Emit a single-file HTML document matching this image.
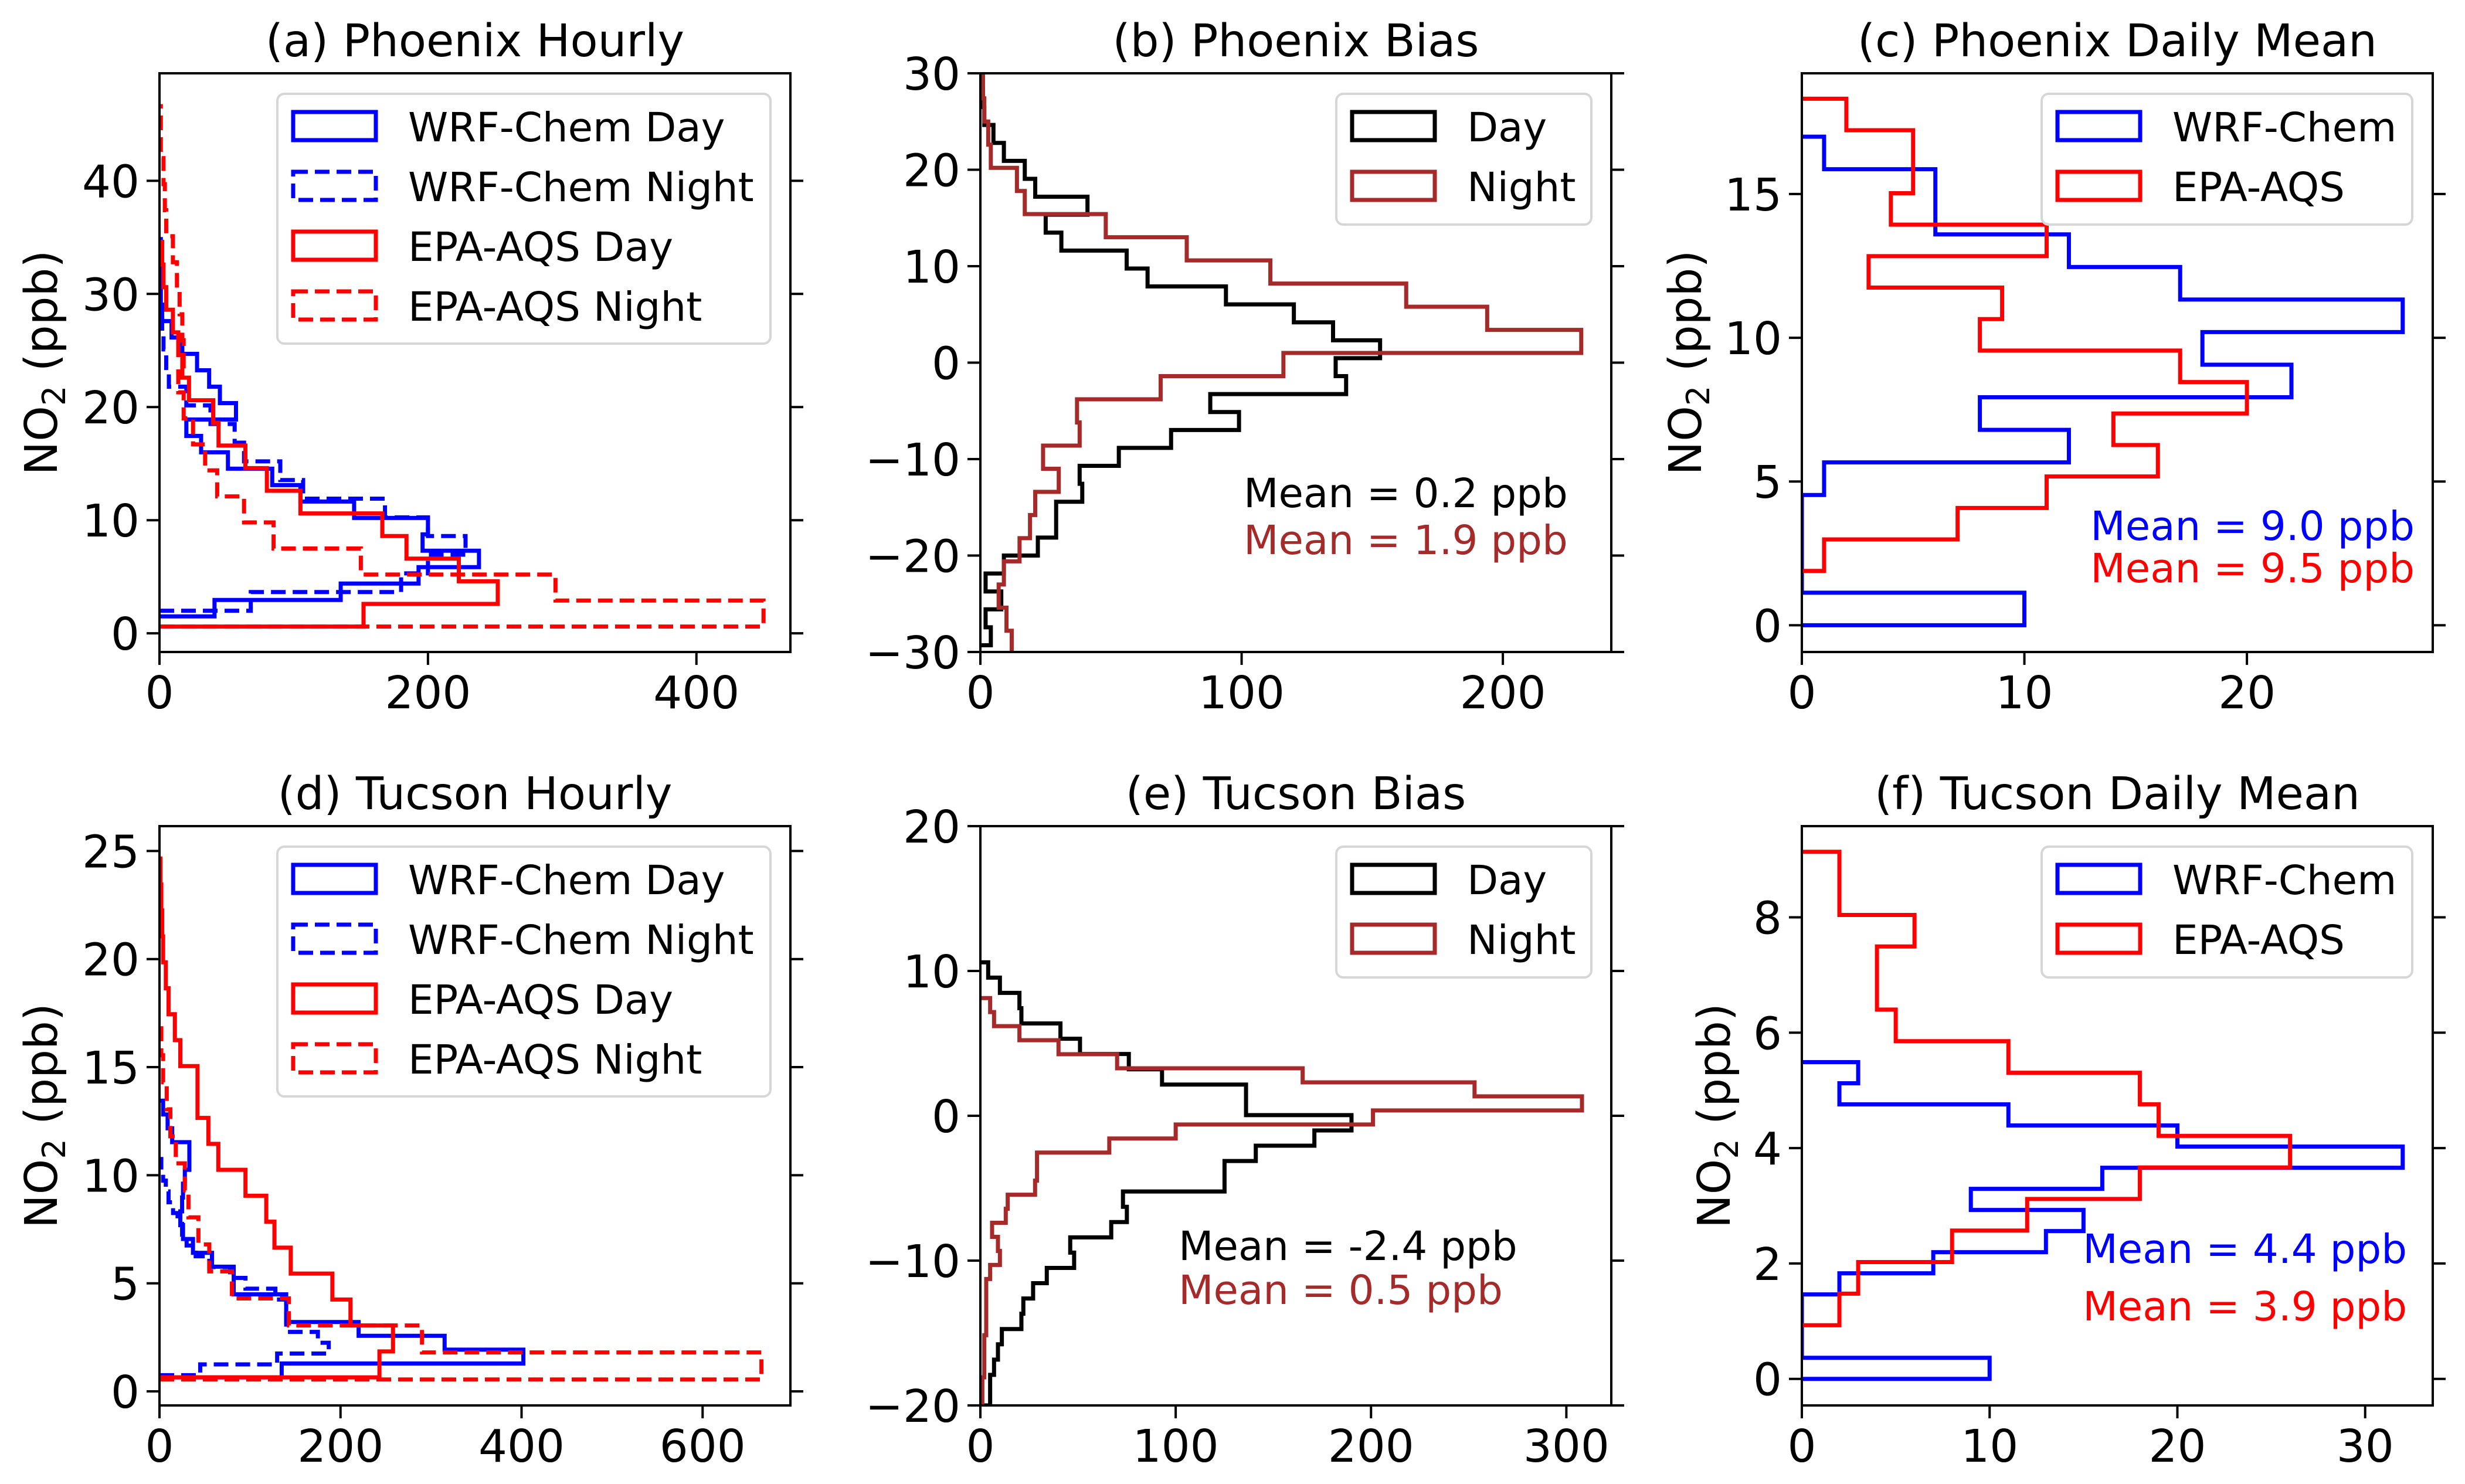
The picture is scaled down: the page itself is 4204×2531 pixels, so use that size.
<!DOCTYPE html>
<html><head><meta charset="utf-8"><style>
html,body{margin:0;padding:0;background:#fff}
svg{display:block}
text{font-family:"DejaVu Sans","Liberation Sans",sans-serif;fill:#000}
</style></head>
<body>
<svg id="fig" xmlns="http://www.w3.org/2000/svg" width="4204" height="2531" viewBox="0 0 4204 2531"></svg>
<script>
// ---- data (bin start, bin width, counts; bins run upward along y) ----
const aWrfDayStart = 1.5, aWrfDayWidth = 1.45;
const aWrfDayCounts = [41,135,193,238,196,200,145,105,84,51,31,20,57,45,37,28,17,9,2,1,1,1,1];
const aWrfNightStart = 2.0, aWrfNightWidth = 1.65;
const aWrfNightCounts = [68,180,200,228,200,168,107,90,63,56,38,20,7,5,3,2];
const aEpaDayStart = 0.6, aEpaDayWidth = 2.0;
const aEpaDayCounts = [152,252,223,184,166,105,80,64,44,40,22,17,14,10,5,3,2];
const aEpaNightStart = 0.6, aEpaNightWidth = 2.3;
const aEpaNightCounts = [450,295,150,85,63,43,34,25,18,14,18,17,15,13,10,5,4,3,1,1];

const bDayStart = -29.3, bDayWidth = 1.86;
const bDayCounts = [4,2,8,2,9,22,29,29,39,38,53,73,99,88,140,136,153,135,120,94,64,56,31,25,41,21,17,9,5,1.5,1];
const bNightStart = -32.6, bNightWidth = 2.4;
const bNightCounts = [12,12,10,7,9,15,19,21,30,24,38,37,69,116,230,194,163,111,79,48,17,14,4,3,1.5,1];

const cWrfStart = 0, cWrfWidth = 1.133;
const cWrfCounts = [10,0,0,0,1,12,8,22,18,27,17,12,6,6,1];
const cEpaStart = 1.89, cEpaWidth = 1.095;
const cEpaCounts = [1,7,11,16,14,20,17,8,9,3,11,4,5,5,2];

const dWrfDayStart = 0.65, dWrfDayWidth = 0.64;
const dWrfDayCounts = [135,402,315,220,140,140,82,82,58,37,26,23,25,26,28,33,33,14,9,4];
const dWrfNightStart = 0.75, dWrfNightWidth = 0.5;
const dWrfNightCounts = [45,130,187,175,140,140,140,128,95,78,55,40,30,25,20,15,10,7,4,2];
const dEpaDayStart = 0.65, dEpaDayWidth = 1.2;
const dEpaDayCounts = [243,258,211,191,145,127,118,95,65,54,42,42,23,17,10,7,4,3,2,1];
const dEpaNightStart = 0.55, dEpaNightWidth = 1.25;
const dEpaNightCounts = [665,290,143,80,55,43,32,28,18,12,8,4,2];

const eDayStart = -20, eDayWidth = 1.055;
const eDayCounts = [5,5,7,9,11,21,22,27,34,48,46,67,75,73,125,125,141,171,190,136,136,93,76,51,41,21,20,10,4];
const eNightStart = -20, eNightWidth = 0.97;
const eNightCounts = [1,1,2,2,2,3,3,3,3,5,10,9,6,13,14,28,29,29,66,100,201,308,253,165,70,40,20,7,5];

const fWrfStart = 0, fWrfWidth = 0.366;
const fWrfCounts = [10,0,0,0,2,7,13,15,9,16,32,20,11,2,3];
const fEpaStart = 0.93, fEpaWidth = 0.547;
const fEpaCounts = [2,3,8,12,18,26,19,18,11,5,4,4,6,2,2];

const aXTicks = [0,200,400], aYTicks = [0,10,20,30,40];
const bXTicks = [0,100,200], bYTicks = [-30,-20,-10,0,10,20,30];
const cXTicks = [0,10,20], cYTicks = [0,5,10,15];
const dXTicks = [0,200,400,600], dYTicks = [0,5,10,15,20,25];
const eXTicks = [0,100,200,300], eYTicks = [-20,-10,0,10,20];
const fXTicks = [0,10,20,30], fYTicks = [0,2,4,6,8];

const NS = "http://www.w3.org/2000/svg";
const svg = document.getElementById('fig');
function mk(tag, attrs, parent){
  const el = document.createElementNS(NS, tag);
  for (const k in attrs) el.setAttribute(k, attrs[k]);
  (parent||svg).appendChild(el);
  return el;
}
const BLUE="#0000ff", RED="#ff0000", BLACK="#000000", BROWN="#a52a2a";
const FS=77, LFS=69, MFS=69;
function fmt(v){ return v<0 ? "\u2212"+Math.abs(v) : String(v); }

function panel(o){
  const g = mk('g', {});
  
  
  const X = v => o.x0 + (v - o.xlim[0])/(o.xlim[1]-o.xlim[0])*(o.x1-o.x0);
  const Y = v => o.y1 - (v - o.ylim[0])/(o.ylim[1]-o.ylim[0])*(o.y1-o.y0);
  const cid = 'clip-'+o.name;
  const cp = mk('clipPath', {id:cid}, g);
  mk('rect', {x:o.x0, y:o.y0, width:o.x1-o.x0, height:o.y1-o.y0}, cp);
  const plot = mk('g', {'clip-path':'url(#'+cid+')'}, g);
  o.series.forEach(s => {
    let d = "M"+X(0)+","+Y(s.start);
    s.counts.forEach((c,i) => {
      const ya = Y(s.start + i*s.width), yb = Y(s.start + (i+1)*s.width);
      d += " L"+X(c)+","+ya+" L"+X(c)+","+yb;
    });
    d += " L"+X(0)+","+Y(s.start + s.counts.length*s.width);
    const p = mk('path', {d:d, fill:'none', stroke:s.color, 'stroke-width':7, 'stroke-linejoin':'miter', 'stroke-dasharray': s.dash ? '25,12' : 'none'}, plot);
    
    
  });
  const fr = mk('rect', {x:o.x0, y:o.y0, width:o.x1-o.x0, height:o.y1-o.y0, fill:'none', stroke:'#000', 'stroke-width':4}, g);
  
  
  o.xt.forEach(t => {
    const x = X(t);
    mk('line', {x1:x, x2:x, y1:o.y1, y2:o.y1+22, stroke:'#000', 'stroke-width':4}, g);
    const tx = mk('text', {x:x, y:o.y1+96, 'text-anchor':'middle', 'font-size':FS}, g);
    tx.textContent = fmt(t);
    
    
  });
  o.yt.forEach(t => {
    const y = Y(t);
    mk('line', {x1:o.x0-22, x2:o.x0, y1:y, y2:y, stroke:'#000', 'stroke-width':4}, g);
    mk('line', {x1:o.x1, x2:o.x1+22, y1:y, y2:y, stroke:'#000', 'stroke-width':4}, g);
    const tx = mk('text', {x:o.x0-34, y:y+28, 'text-anchor':'end', 'font-size':FS}, g);
    tx.textContent = fmt(t);
    
    
  });
  const ti = mk('text', {x:(o.x0+o.x1)/2, y:o.y0-29, 'text-anchor':'middle', 'font-size':FS}, g);
  ti.textContent = o.title;
  
  
  if (o.ylab){
    const yl = mk('text', {x:0, y:0, 'text-anchor':'middle', 'font-size':FS, transform:'translate('+(o.ylab+27)+','+((o.y0+o.y1)/2)+') rotate(-90)'}, g);
    yl.innerHTML = 'NO<tspan font-size="54" dy="14">2</tspan><tspan dy="-14"> (ppb)</tspan>';
    
    
  }
  const L = o.legend;
  const lg = mk('g', {}, g);
  
  
  mk('rect', {x:o.x0+L.dx, y:o.y0+35, width:L.w, height:L.h, rx:12, fill:'#fff', 'fill-opacity':0.8, stroke:'#d6d6d6', 'stroke-width':4}, lg);
  L.items.forEach((it,i) => {
    const cy = o.y0 + 90 + i*102;
    const hx = o.x0 + L.dx + 27;
    const r = mk('rect', {x:hx, y:cy-24, width:141, height:48, fill:'none', stroke:it.color, 'stroke-width':7, 'stroke-dasharray': it.dash ? '25,12' : 'none'}, lg);
    
    
    const t = mk('text', {x:hx+196, y:cy+26, 'font-size':LFS}, lg);
    t.textContent = it.label;
    
    
  });
  (o.means||[]).forEach(m => {
    const t = mk('text', {x:m.x, y:m.y, 'text-anchor':m.anchor, 'font-size':MFS, style:'fill:'+m.color}, g);
    t.textContent = m.text;
    
    
  });
}

const hourlyLegend = {dx:201, w:841, h:426, items:[
  {label:'WRF-Chem Day', color:BLUE}, {label:'WRF-Chem Night', color:BLUE, dash:true},
  {label:'EPA-AQS Day', color:RED}, {label:'EPA-AQS Night', color:RED, dash:true}]};
const biasLegend = {dx:607, w:435, h:223, items:[{label:'Day', color:BLACK},{label:'Night', color:BROWN}]};
const dailyLegend = {dx:409, w:632, h:223, items:[{label:'WRF-Chem', color:BLUE},{label:'EPA-AQS', color:RED}]};

const R1 = [125,1112], R2 = [1409,2397];
panel({name:'panel-a-phoenix-hourly', title:'(a) Phoenix Hourly', x0:272, x1:1348, y0:R1[0], y1:R1[1],
  xlim:[0,470], ylim:[-1.65,49.5], xt:aXTicks, yt:aYTicks, ylab:70, legend:hourlyLegend,
  series:[
    {sname:'wrf-chem-day-hist', start:aWrfDayStart, width:aWrfDayWidth, counts:aWrfDayCounts, color:BLUE},
    {sname:'wrf-chem-night-hist', start:aWrfNightStart, width:aWrfNightWidth, counts:aWrfNightCounts, color:BLUE, dash:true},
    {sname:'epa-aqs-day-hist', start:aEpaDayStart, width:aEpaDayWidth, counts:aEpaDayCounts, color:RED},
    {sname:'epa-aqs-night-hist', start:aEpaNightStart, width:aEpaNightWidth, counts:aEpaNightCounts, color:RED, dash:true}]});
panel({name:'panel-b-phoenix-bias', title:'(b) Phoenix Bias', x0:1672, x1:2748, y0:R1[0], y1:R1[1],
  xlim:[0,241.5], ylim:[-30,30], xt:bXTicks, yt:bYTicks, legend:biasLegend,
  means:[{text:'Mean = 0.2 ppb', x:2121, y:865, anchor:'start', color:BLACK},{text:'Mean = 1.9 ppb', x:2121, y:945, anchor:'start', color:BROWN}],
  series:[
    {sname:'day-bias-hist', start:bDayStart, width:bDayWidth, counts:bDayCounts, color:BLACK},
    {sname:'night-bias-hist', start:bNightStart, width:bNightWidth, counts:bNightCounts, color:BROWN}]});
panel({name:'panel-c-phoenix-daily-mean', title:'(c) Phoenix Daily Mean', x0:3073, x1:4149, y0:R1[0], y1:R1[1],
  xlim:[0,28.35], ylim:[-0.93,19.2], xt:cXTicks, yt:cYTicks, ylab:2874, legend:dailyLegend,
  means:[{text:'Mean = 9.0 ppb', x:4118, y:921, anchor:'end', color:BLUE},{text:'Mean = 9.5 ppb', x:4118, y:993, anchor:'end', color:RED}],
  series:[
    {sname:'wrf-chem-hist', start:cWrfStart, width:cWrfWidth, counts:cWrfCounts, color:BLUE},
    {sname:'epa-aqs-hist', start:cEpaStart, width:cEpaWidth, counts:cEpaCounts, color:RED}]});
panel({name:'panel-d-tucson-hourly', title:'(d) Tucson Hourly', x0:272, x1:1348, y0:R2[0], y1:R2[1],
  xlim:[0,697], ylim:[-0.65,26.15], xt:dXTicks, yt:dYTicks, ylab:70, legend:hourlyLegend,
  series:[
    {sname:'wrf-chem-day-hist', start:dWrfDayStart, width:dWrfDayWidth, counts:dWrfDayCounts, color:BLUE},
    {sname:'wrf-chem-night-hist', start:dWrfNightStart, width:dWrfNightWidth, counts:dWrfNightCounts, color:BLUE, dash:true},
    {sname:'epa-aqs-day-hist', start:dEpaDayStart, width:dEpaDayWidth, counts:dEpaDayCounts, color:RED},
    {sname:'epa-aqs-night-hist', start:dEpaNightStart, width:dEpaNightWidth, counts:dEpaNightCounts, color:RED, dash:true}]});
panel({name:'panel-e-tucson-bias', title:'(e) Tucson Bias', x0:1672, x1:2748, y0:R2[0], y1:R2[1],
  xlim:[0,323], ylim:[-20,20], xt:eXTicks, yt:eYTicks, legend:biasLegend,
  means:[{text:'Mean = -2.4 ppb', x:2010, y:2149, anchor:'start', color:BLACK},{text:'Mean = 0.5 ppb', x:2010, y:2224, anchor:'start', color:BROWN}],
  series:[
    {sname:'day-bias-hist', start:eDayStart, width:eDayWidth, counts:eDayCounts, color:BLACK},
    {sname:'night-bias-hist', start:eNightStart, width:eNightWidth, counts:eNightCounts, color:BROWN}]});
panel({name:'panel-f-tucson-daily-mean', title:'(f) Tucson Daily Mean', x0:3073, x1:4149, y0:R2[0], y1:R2[1],
  xlim:[0,33.6], ylim:[-0.46,9.58], xt:fXTicks, yt:fYTicks, ylab:2923, legend:dailyLegend,
  means:[{text:'Mean = 4.4 ppb', x:4105, y:2154, anchor:'end', color:BLUE},{text:'Mean = 3.9 ppb', x:4105, y:2252, anchor:'end', color:RED}],
  series:[
    {sname:'wrf-chem-hist', start:fWrfStart, width:fWrfWidth, counts:fWrfCounts, color:BLUE},
    {sname:'epa-aqs-hist', start:fEpaStart, width:fEpaWidth, counts:fEpaCounts, color:RED}]});
</script>
</body></html>
